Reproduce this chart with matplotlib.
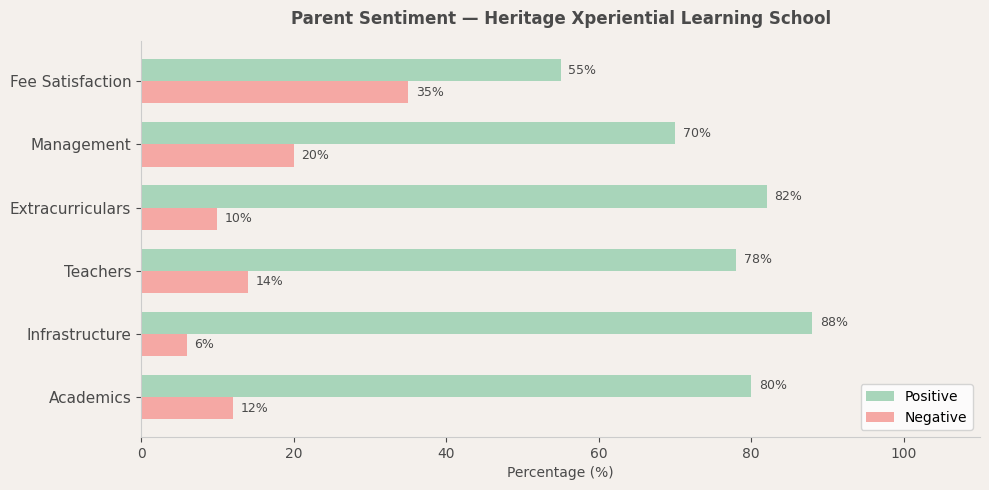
import numpy as np
import matplotlib.pyplot as plt

# data
categories = ["Academics", "Infrastructure", "Teachers", "Extracurriculars", "Management", "Fee Satisfaction"]
positive = [80, 88, 78, 82, 70, 55]
negative = [12, 6, 14, 10, 20, 35]

bg = "#f4f0ec"
txt = "#4a4a4a"
pos_color = "#a8d5ba"
neg_color = "#f5a8a4"

fig, ax = plt.subplots(figsize=(9.89, 4.9), dpi=100)
fig.patch.set_facecolor(bg)
ax.set_facecolor(bg)

y = np.arange(len(categories))
h = 0.35
bars_pos = ax.barh(y + h / 2, positive, height=h, color=pos_color, label="Positive")
bars_neg = ax.barh(y - h / 2, negative, height=h, color=neg_color, label="Negative")

for bars in (bars_pos, bars_neg):
    for b in bars:
        w = b.get_width()
        ax.text(w + 1, b.get_y() + b.get_height() / 2, f"{w:.0f}%",
                va="center", ha="left", fontsize=9, color=txt)

ax.set_yticks(y)
ax.set_yticklabels(categories, fontsize=11, color=txt)
ax.set_xlim(0, 110)
ax.tick_params(axis="x", labelsize=10, colors=txt)
ax.tick_params(axis="y", colors=txt)
ax.set_xlabel("Percentage (%)", fontsize=10, color=txt)
ax.set_title("Parent Sentiment \u2014 Heritage Xperiential Learning School",
             fontsize=12, fontweight="bold", color=txt, pad=12)

for s in ("top", "right"):
    ax.spines[s].set_visible(False)
for s in ("left", "bottom"):
    ax.spines[s].set_color("#cccccc")

ax.legend(loc="lower right", fontsize=10)

plt.subplots_adjust(left=0.1426, right=0.991, top=0.916, bottom=0.108)
plt.savefig("out.png", dpi=100, facecolor=bg)
